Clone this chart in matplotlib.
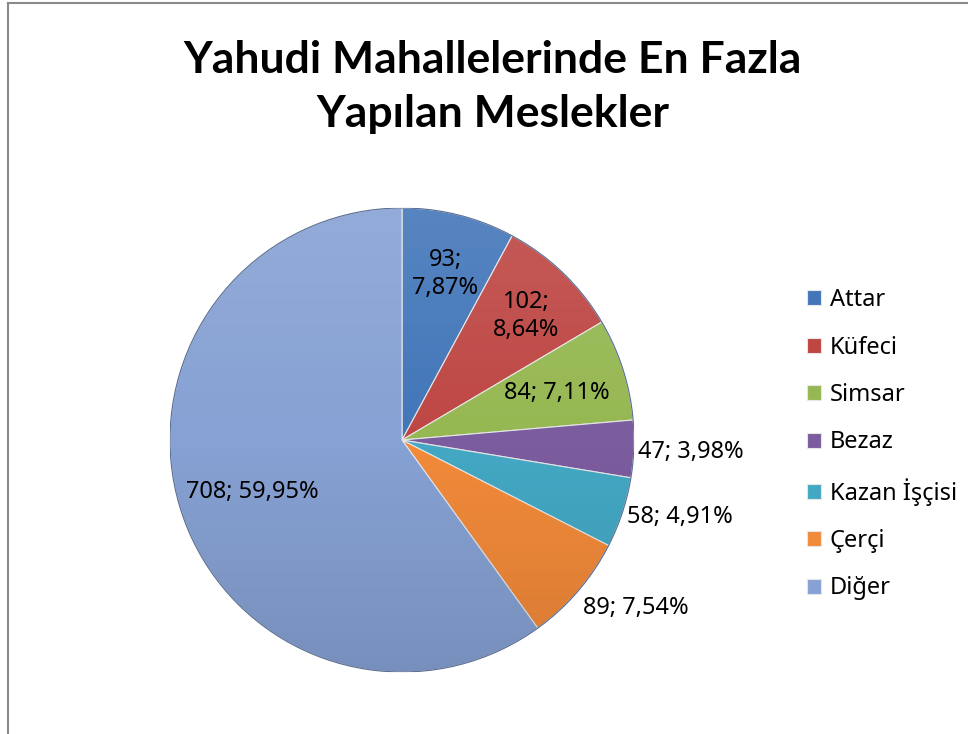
import numpy as np
import matplotlib.pyplot as plt
from matplotlib.lines import Line2D

plt.rcParams['font.family'] = ['Noto Sans', 'DejaVu Sans']

# veriler
meslekler = ['Attar', 'Küfeci', 'Simsar', 'Bezaz', 'Kazan İşçisi', 'Çerçi', 'Diğer']
sayilar = [93, 102, 84, 47, 58, 89, 708]
renkler = ['#4276B9', '#BE4744', '#96B852', '#7B5D9F', '#44A8C4', '#F28A3A', '#86A1D3']

W, H = 968, 734
fig = plt.figure(figsize=(W / 100, H / 100), dpi=100)

# pasta: merkez ve yaricap piksel olarak
cx, cy, R = 402, 440, 232
ax = fig.add_axes([(cx - R) / W, 1 - (cy + R) / H, 2 * R / W, 2 * R / H])

wedges, _ = ax.pie(sayilar, colors=renkler, startangle=90, counterclock=False,
                   radius=1, wedgeprops=dict(edgecolor='#e6e6e6', linewidth=0.8))
ax.set_xlim(-1, 1)
ax.set_ylim(-1, 1)
ax.set_aspect('equal')

# hafif dikey golge (ustte acik, altta koyu)
grad = np.linspace(1, 0, 256).reshape(-1, 1)
shade = np.zeros((256, 1, 4))
shade[..., :3] = np.where(grad[..., None] > 0.5, 1.0, 0.0)
shade[..., 3] = np.abs(grad - 0.5) * 0.22
img = ax.imshow(shade, extent=[-1, 1, -1, 1], aspect='auto', zorder=3)
img.set_clip_path(plt.Circle((0, 0), 1, transform=ax.transData))
ax.add_patch(plt.Circle((0, 0), 1, fill=False, edgecolor='#5a6f96', lw=0.8, zorder=4))

# etiketler
toplam = sum(sayilar)
uzaklik = [0.76, 0.77, 0.70, 1.02, 1.02, 1.03, 0.68]
disarida = [False, False, False, True, True, True, False]
bas = 0
for i, (n, d, dis) in enumerate(zip(sayilar, uzaklik, disarida)):
    orta = bas + n / 2
    aci = np.deg2rad(90 - 360 * orta / toplam)
    bas += n
    yuzde = f'{100 * n / toplam:.2f}'.replace('.', ',') + '%'
    if i < 2:
        metin = f'{n};\n{yuzde}'
    else:
        metin = f'{n}; {yuzde}'
    dikey = 'top' if i == 5 else 'center_baseline'
    ax.text(d * np.cos(aci), d * np.sin(aci), metin, fontsize=17,
            ha='left' if dis else 'center', va=dikey, zorder=5,
            linespacing=1.2)

fig.text(0.509, 1 - 87 / H, 'Yahudi Mahallelerinde En Fazla\nYapılan Meslekler',
         ha='center', va='center', fontsize=32, fontweight='bold',
         family=['Lato', 'DejaVu Sans'], linespacing=1.45)

fig.legend(wedges, meslekler, loc='upper left', bbox_to_anchor=(786 / W, 1 - 267 / H),
           frameon=False, fontsize=17, handlelength=0.6, handleheight=0.6,
           handletextpad=0.35, labelspacing=0.99)

# cerceve
fig.add_artist(Line2D([8 / W, 8 / W], [0, 1 - 3 / H], color='#8a8a8a', lw=1.5))
fig.add_artist(Line2D([8 / W, 1], [1 - 3 / H, 1 - 3 / H], color='#8a8a8a', lw=1.5))

fig.savefig('out.png', dpi=100)
